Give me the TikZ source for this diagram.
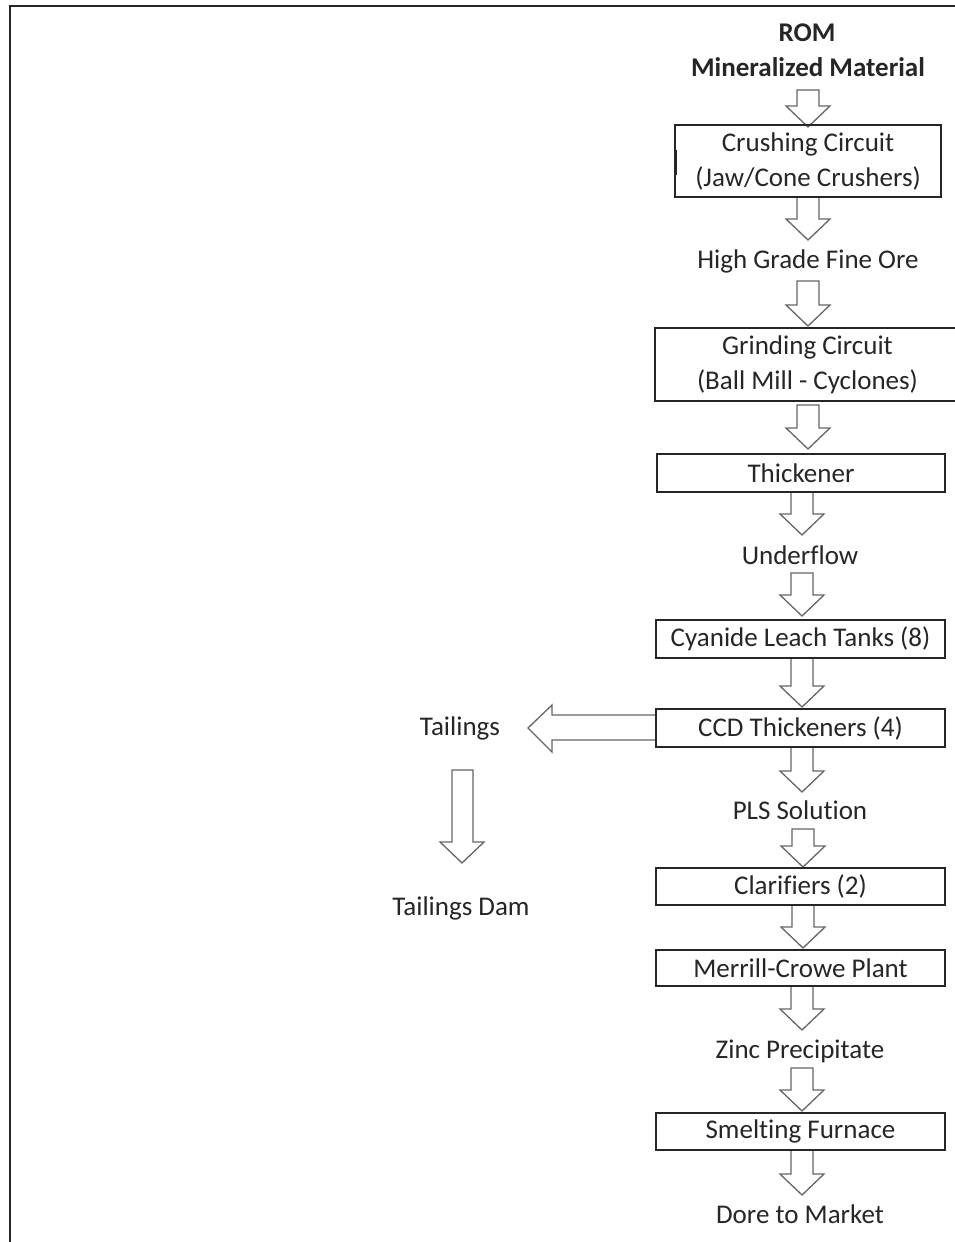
\documentclass[tikz,border=0pt]{standalone}
\usepackage{fontspec}
\setmainfont{Carlito}[Ligatures=CommonOff]
\newcommand\lbl{\fontsize{27}{35}\selectfont}
\tikzset{
  box/.style={draw=black!85, line width=1.8pt, minimum width=289pt, minimum height=38pt, inner sep=0pt, text=black!85, font=\lbl, align=center},
  lbl/.style={text=black!85, font=\lbl, inner sep=0pt, align=center},
  blk/.style={draw=black!60, line width=1.3pt, fill=white, line join=miter},
  frame/.style={draw=black!85, line width=2pt}
}
\newcommand\darr[3]{\draw[blk] ({#1-11},#2) -- ({#1+11},#2) -- ({#1+11},{#3-21}) -- ({#1+22},{#3-21}) -- (#1,#3) -- ({#1-22},{#3-21}) -- ({#1-11},{#3-21}) -- cycle;}
\begin{document}
\begin{tikzpicture}[x=1pt,y=-1pt]
\useasboundingbox (0,0) rectangle (954,1242);
\fill[white] (0,0) rectangle (954,1242);
% frame
\draw[frame] (10,1250) -- (10,6) -- (960,6);
% arrows (drawn first)
\darr{808}{90}{127}
\darr{808}{197}{240}
\darr{808}{281}{326}
\darr{808}{405}{449}
\darr{802}{492}{535}
\darr{802}{573}{616}
\darr{802}{658}{707}
\darr{802}{747}{792}
\darr{803}{829}{867}
\darr{803}{905}{948}
\darr{802}{986}{1030}
\darr{802}{1068}{1111}
\darr{802}{1150}{1195}
% tailings left arrow
\draw[blk] (656,715) -- (552,715) -- (552,705) -- (528,728) -- (552,752) -- (552,740) -- (656,740) -- cycle;
% tailings down arrow
\draw[blk] (452,770) -- (473,770) -- (473,842) -- (484,842) -- (462,863) -- (440,842) -- (452,842) -- cycle;
% texts and boxes
\node[lbl, font=\lbl\bfseries] (rom) at (807,33) {ROM};
\node[lbl, font=\lbl\bfseries] (mm) at (808,67) {Mineralized Material};
\node[box, minimum width=266pt, minimum height=72pt] (crush) at (808,161) {Crushing Circuit\\(Jaw/Cone Crushers)};
\draw[line width=2.5pt, black!85] (676,150) -- (676,175);
\node[lbl] (hgfo) at (808,261) {High Grade Fine Ore};
\node[box, minimum width=305pt, minimum height=73pt] (grind) at (807.5,364.5) {Grinding Circuit\\(Ball Mill - Cyclones)};
\node[box, minimum width=288pt] (thick) at (801,473) {Thickener};
\node[lbl] (under) at (800,555) {Underflow};
\node[box] (cyan) at (800.5,639) {Cyanide Leach Tanks (8)};
\node[box] (ccd) at (800.5,728) {CCD Thickeners (4)};
\node[lbl] (tail) at (460,728) {Tailings};
\node[lbl] (dam) at (461,908) {Tailings Dam};
\node[lbl] (pls) at (800,810) {PLS Solution};
\node[box, minimum height=37pt] (clar) at (800.5,886.5) {Clarifiers (2)};
\node[box, minimum height=36pt] (merr) at (800.5,968) {Merrill-Crowe Plant};
\node[lbl] (zinc) at (800,1051) {Zinc Precipitate};
\node[box, minimum height=37pt] (smelt) at (800.5,1131.5) {Smelting Furnace};
\node[lbl] (dore) at (800,1214) {Dore to Market};
\end{tikzpicture}
\end{document}
